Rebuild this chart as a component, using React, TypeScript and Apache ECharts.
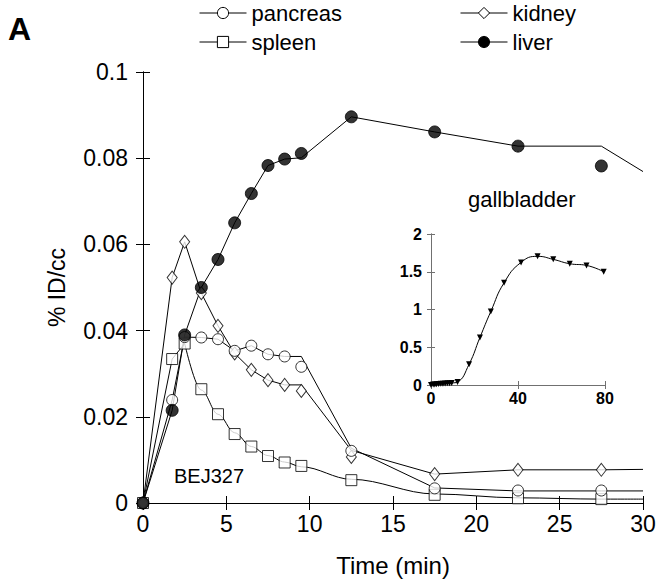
import React, { useEffect, useRef } from 'react';
import * as echarts from 'echarts';

const FONT = '"Liberation Sans", Arial, Helvetica, sans-serif';

// ---- measured samples (min, %ID/cc) ----
const sampleTimes = [0, 1.75, 2.5, 3.5, 4.5, 5.5, 6.5, 7.5, 8.5, 9.5, 12.5, 17.5, 22.5, 27.5];
const pancreas = [0, 0.0239, 0.0385, 0.0384, 0.038, 0.0353, 0.0365, 0.0345, 0.034, 0.0316, 0.0121, 0.0034, 0.0029, 0.0029];
const kidney = [0, 0.0523, 0.0606, 0.0487, 0.0411, 0.0347, 0.0309, 0.0285, 0.0274, 0.026, 0.0107, 0.0067, 0.0077, 0.0077];
const spleen = [0, 0.0334, 0.037, 0.0264, 0.0206, 0.016, 0.0131, 0.0109, 0.0094, 0.0086, 0.0053, 0.0019, 0.0011, 0.0009];
const liver = [0, 0.0215, 0.039, 0.05, 0.0565, 0.065, 0.0718, 0.0783, 0.0798, 0.0811, 0.0896, 0.0861, 0.0828, 0.0782];

// ---- fitted curves drawn as lines ----
const fitTimes = [0, 1.75, 2.5, 3.5, 4.5, 5.5, 6.5, 7.5, 8.5, 9.5, 12.5, 17.5, 22.5, 27.5, 30];
const pancreasFit = [0, 0.0239, 0.0385, 0.0384, 0.038, 0.0353, 0.0365, 0.0345, 0.034, 0.034, 0.0127, 0.0035, 0.0028, 0.0028, 0.0028];
const kidneyFit = [0, 0.0523, 0.0606, 0.0487, 0.0411, 0.0347, 0.0309, 0.0285, 0.0274, 0.0274, 0.0122, 0.0067, 0.0077, 0.0077, 0.0078];
const liverFit = [0, 0.0215, 0.039, 0.05, 0.0565, 0.065, 0.0718, 0.0783, 0.0798, 0.0801, 0.0896, 0.0861, 0.0828, 0.0828, 0.0769];
const spleenRiseTimes = [0, 1.75, 2.5];
const spleenRiseFit = [0, 0.0334, 0.037];
const spleenDecayTimes = [2.5, 3.5, 4.5, 5.5, 6.5, 7.5, 8.5, 9.5, 12.5, 17.5, 22.5, 27.5, 30];
const spleenDecayFit = [0.037, 0.0262, 0.0206, 0.0163, 0.0131, 0.011, 0.0095, 0.0084, 0.0055, 0.0021, 0.0012, 0.0009, 0.0009];

// ---- inset: gallbladder ----
const gbTimes = [0, 1, 1.75, 2.5, 3.5, 4.5, 5.5, 6.5, 7.5, 8.5, 9.5, 12.2, 17.5, 22.5, 27.5, 33.6, 41.4, 49, 56.2, 63.8, 71.5, 79.4];
const gbValues = [0, 0.005, 0.008, 0.01, 0.013, 0.016, 0.018, 0.02, 0.022, 0.024, 0.026, 0.04, 0.275, 0.63, 0.974, 1.354, 1.624, 1.704, 1.664, 1.606, 1.584, 1.5];

// ---- tick labels ----
const xTickLabels = ['0', '5', '10', '15', '20', '25', '30'];
const yTickLabels = ['0', '0.02', '0.04', '0.06', '0.08', '0.1'];
const insetXTickLabels = ['0', '40', '80'];
const insetYTickLabels = ['0', '0.5', '1', '1.5', '2'];

const zip = (xs: number[], ys: number[]) => xs.map((x, i) => [x, ys[i]]);

const openStyle = { color: '#fff', borderColor: '#000', borderWidth: 1 };
const filledStyle = { color: '#000', borderColor: '#000', borderWidth: 1 };
const blackLine = { color: '#000', width: 1 };

function buildOption() {
  const mainAxisBase = {
    gridIndex: 0,
    type: 'value' as const,
    axisLine: { show: true, lineStyle: { color: '#000', width: 1 } },
    axisTick: { show: true, inside: true, length: 7, lineStyle: { color: '#000', width: 1 } },
    splitLine: { show: false },
  };
  const insetAxisBase = {
    gridIndex: 1,
    type: 'value' as const,
    axisLine: { show: true, lineStyle: { color: '#707070', width: 1 } },
    axisTick: { show: true, inside: true, length: 4, lineStyle: { color: '#707070', width: 1 } },
    splitLine: { show: false },
  };
  const legendBase = {
    orient: 'horizontal' as const,
    padding: 0,
    itemWidth: 47,
    itemHeight: 14,
    selectedMode: false,
    textStyle: { fontFamily: FONT, fontSize: 22, color: '#000' },
  };

  return {
    animation: false,
    backgroundColor: '#fff',
    textStyle: { fontFamily: FONT },
    grid: [
      { left: 143, top: 72, width: 500, height: 431 },
      { left: 431, top: 234, width: 174, height: 151 },
    ],
    legend: [
      { ...legendBase, left: 199, top: 2, data: [{ name: 'pancreas', itemStyle: openStyle, lineStyle: blackLine }] },
      { ...legendBase, left: 199, top: 31, data: [{ name: 'spleen', itemStyle: openStyle, lineStyle: blackLine }] },
      { ...legendBase, left: 460, top: 2, data: [{ name: 'kidney', itemStyle: openStyle, lineStyle: blackLine }] },
      { ...legendBase, left: 460, top: 31, data: [{ name: 'liver', itemStyle: filledStyle, lineStyle: blackLine }] },
    ],
    xAxis: [
      {
        ...mainAxisBase,
        position: 'bottom',
        min: 0,
        max: 30,
        interval: 5,
        axisLabel: {
          fontSize: 23,
          color: '#000',
          margin: 9,
          fontFamily: FONT,
          formatter: (v: number) => xTickLabels[Math.round(v / 5)] ?? '',
        },
        name: 'Time (min)',
        nameLocation: 'middle',
        nameGap: 50,
        nameTextStyle: { fontSize: 24, color: '#000', fontFamily: FONT },
      },
      { ...mainAxisBase, position: 'top', min: 0, max: 30, interval: 5, axisLabel: { show: false } },
      {
        ...insetAxisBase,
        position: 'bottom',
        min: 0,
        max: 80,
        interval: 40,
        axisLabel: {
          fontSize: 16,
          fontWeight: 'bold',
          color: '#000',
          margin: 5,
          fontFamily: FONT,
          formatter: (v: number) => insetXTickLabels[Math.round(v / 40)] ?? '',
        },
      },
      { ...insetAxisBase, position: 'top', min: 0, max: 80, interval: 40, axisLabel: { show: false } },
    ],
    yAxis: [
      {
        ...mainAxisBase,
        position: 'left',
        min: 0,
        max: 0.1,
        interval: 0.02,
        axisLabel: {
          fontSize: 23,
          color: '#000',
          margin: 15,
          fontFamily: FONT,
          formatter: (v: number) => yTickLabels[Math.round(v / 0.02)] ?? '',
        },
        name: '% ID/cc',
        nameLocation: 'middle',
        nameGap: 75,
        nameRotate: 90,
        nameTextStyle: { fontSize: 23, color: '#000', fontFamily: FONT },
      },
      { ...mainAxisBase, position: 'right', min: 0, max: 0.1, interval: 0.02, axisLabel: { show: false } },
      {
        ...insetAxisBase,
        position: 'left',
        min: 0,
        max: 2,
        interval: 0.5,
        axisLabel: {
          fontSize: 16,
          fontWeight: 'bold',
          color: '#000',
          margin: 9,
          fontFamily: FONT,
          formatter: (v: number) => insetYTickLabels[Math.round(v / 0.5)] ?? '',
        },
      },
      { ...insetAxisBase, position: 'right', min: 0, max: 2, interval: 0.5, axisLabel: { show: false } },
    ],
    series: [
      // fitted lines (first, so the legend icons come from them)
      {
        name: 'pancreas', type: 'line', xAxisIndex: 0, yAxisIndex: 0,
        data: zip(fitTimes, pancreasFit), symbol: 'circle', showSymbol: false,
        lineStyle: blackLine, itemStyle: openStyle, z: 2,
      },
      {
        name: 'kidney', type: 'line', xAxisIndex: 0, yAxisIndex: 0,
        data: zip(fitTimes, kidneyFit), symbol: 'diamond', showSymbol: false,
        lineStyle: blackLine, itemStyle: openStyle, z: 2,
      },
      {
        name: 'spleen', type: 'line', xAxisIndex: 0, yAxisIndex: 0,
        data: zip(spleenRiseTimes, spleenRiseFit), symbol: 'rect', showSymbol: false,
        lineStyle: blackLine, itemStyle: openStyle, z: 2,
      },
      {
        name: 'spleen', type: 'line', xAxisIndex: 0, yAxisIndex: 0,
        data: zip(spleenDecayTimes, spleenDecayFit), symbol: 'rect', showSymbol: false,
        smooth: 0.35, smoothMonotone: 'x',
        lineStyle: blackLine, itemStyle: openStyle, z: 2,
      },
      {
        name: 'liver', type: 'line', xAxisIndex: 0, yAxisIndex: 0,
        data: zip(fitTimes, liverFit), symbol: 'circle', showSymbol: false,
        lineStyle: blackLine, itemStyle: filledStyle, z: 2,
      },
      // measured markers
      {
        name: 'spleen', type: 'scatter', xAxisIndex: 0, yAxisIndex: 0,
        data: zip(sampleTimes, spleen), symbol: 'rect', symbolSize: 11,
        itemStyle: openStyle, z: 3,
      },
      {
        name: 'kidney', type: 'scatter', xAxisIndex: 0, yAxisIndex: 0,
        data: zip(sampleTimes, kidney), symbol: 'diamond', symbolSize: [10, 13],
        itemStyle: openStyle, z: 4,
      },
      {
        name: 'pancreas', type: 'scatter', xAxisIndex: 0, yAxisIndex: 0,
        data: zip(sampleTimes, pancreas), symbol: 'circle', symbolSize: 11,
        itemStyle: openStyle, z: 5,
      },
      {
        name: 'liver', type: 'scatter', xAxisIndex: 0, yAxisIndex: 0,
        data: zip(sampleTimes, liver), symbol: 'circle', symbolSize: 12,
        itemStyle: filledStyle, z: 6,
      },
      // inset
      {
        name: 'gallbladder', type: 'line', xAxisIndex: 2, yAxisIndex: 2,
        data: zip(gbTimes, gbValues), smooth: 0.5,
        symbol: 'triangle', symbolRotate: 180, symbolSize: 6, showSymbol: true,
        lineStyle: blackLine, itemStyle: { color: '#000' }, z: 7,
      },
    ],
    graphic: [
      {
        type: 'text', left: 8, top: 13,
        style: { text: 'A', fontFamily: FONT, fontSize: 32, fontWeight: 'bold', fill: '#000' },
      },
      {
        type: 'text', left: 468, top: 188,
        style: { text: 'gallbladder', fontFamily: FONT, fontSize: 22, fill: '#000' },
      },
      {
        type: 'text', left: 174, top: 466,
        style: { text: 'BEJ327', fontFamily: FONT, fontSize: 20, fill: '#000' },
      },
    ],
  };
}

export default function App() {
  const ref = useRef<HTMLDivElement>(null);
  useEffect(() => {
    document.body.style.margin = '0';
    if (!ref.current) return;
    const chart = echarts.init(ref.current, null, { renderer: 'svg' });
    chart.setOption(buildOption() as any);
    return () => chart.dispose();
  }, []);
  return <div ref={ref} style={{ width: 662, height: 585 }} />;
}
